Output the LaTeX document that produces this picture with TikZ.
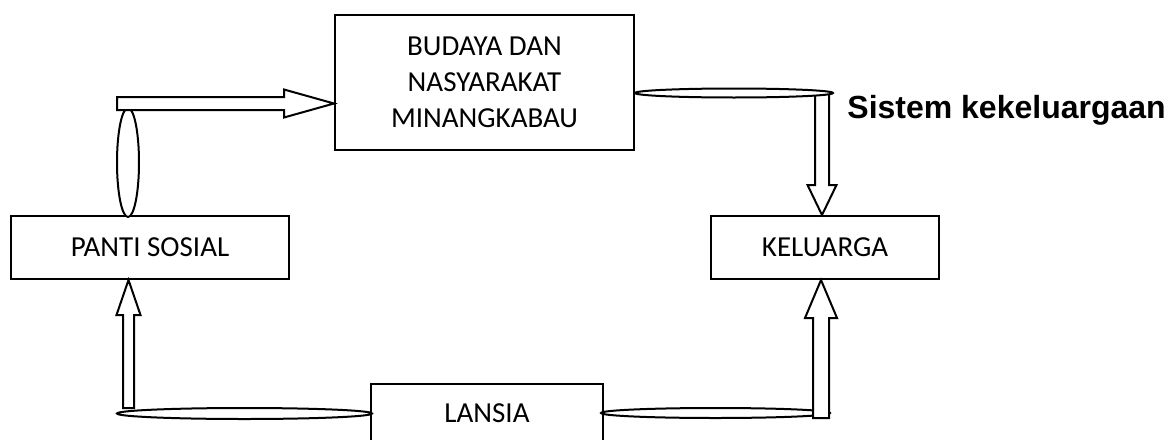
\documentclass[tikz,border=0pt]{standalone}
\usepackage{fontspec}
\setmainfont{Carlito}
\newfontfamily\arialfont{Liberation Sans}
\usetikzlibrary{shapes.geometric, calc}

% hollow block arrow: tail, tip, shaft half width, head half width, head length
\newcommand{\blockarrow}[5]{%
  \coordinate (ba_base) at ($(#2)!#5!(#1)$);
  \draw[blk] ($(#1)!#3!90:(#2)$) -- ($(ba_base)!#3!-90:(#1)$) -- ($(ba_base)!#4!-90:(#1)$) -- (#2)
    -- ($(ba_base)!#4!90:(#1)$) -- ($(ba_base)!#3!90:(#1)$) -- ($(#1)!#3!-90:(#2)$) -- cycle;
}

\begin{document}
\begin{tikzpicture}[x=0.5pt,y=-0.5pt]%[scale=\tikzscale]
        \tikzset{ box/.style ={draw, fill=white, line width=1pt, inner sep=0pt, align=center, font=\fontsize{14.5}{18}\selectfont} }
        \tikzset{ lnk/.style ={draw, fill=white, ellipse, line width=1pt, inner sep=0pt} }
        \tikzset{ blk/.style ={draw, fill=white, line width=1pt, line join=miter} }

        \useasboundingbox (0,0) rectangle (1166,439);

        \node[box, minimum width=149.5pt, minimum height=67.5pt] (budaya)   at (484.5, 82.5) {BUDAYA DAN\\NASYARAKAT\\MINANGKABAU};
        \node[box, minimum width=139pt,   minimum height=31.5pt] (panti)    at (150,  247.5) {PANTI SOSIAL};
        \node[box, minimum width=114pt,   minimum height=31.5pt] (keluarga) at (825,  247.5) {KELUARGA};
        \node[box, minimum width=116pt,   minimum height=29pt]   (lansia)   at (487,  413)   {LANSIA};

        \node[anchor=base west, inner sep=0pt, font=\arialfont\bfseries\fontsize{16}{19}\selectfont] (sistem) at (847,118) {Sistem kekeluargaan};

        \node[lnk, minimum width=11pt,    minimum height=54.5pt] (lnk_ps) at (128,   162.5) {};
        \node[lnk, minimum width=127.5pt, minimum height=5.5pt]  (lnk_lp) at (244.5, 413.5) {};
        \node[lnk, minimum width=114.5pt, minimum height=5pt]    (lnk_lk) at (715.5, 413)   {};

        \coordinate (a1_tail) at (117,103.5);
        \coordinate (a1_tip)  at (budaya.west |- a1_tail);
        \coordinate (a2_tail) at (822,93);
        \coordinate (a2_tip)  at (a2_tail |- keluarga.north);
        \coordinate (a3_tail) at (128.5,408);
        \coordinate (a3_tip)  at (a3_tail |- panti.south);
        \coordinate (a4_tail) at (821,418);
        \coordinate (a4_tip)  at (a4_tail |- keluarga.south);

        \blockarrow{a1_tail}{a1_tip}{3.25pt}{7pt}{25pt}
        \blockarrow{a2_tail}{a2_tip}{3.5pt}{7.25pt}{15pt}
        \blockarrow{a3_tail}{a3_tip}{2.75pt}{6pt}{17.5pt}
        \blockarrow{a4_tail}{a4_tip}{4pt}{8pt}{19pt}

        \node[lnk, minimum width=99pt, minimum height=4.5pt] (lnk_bk) at (734, 93) {};
      \end{tikzpicture}
\end{document}
